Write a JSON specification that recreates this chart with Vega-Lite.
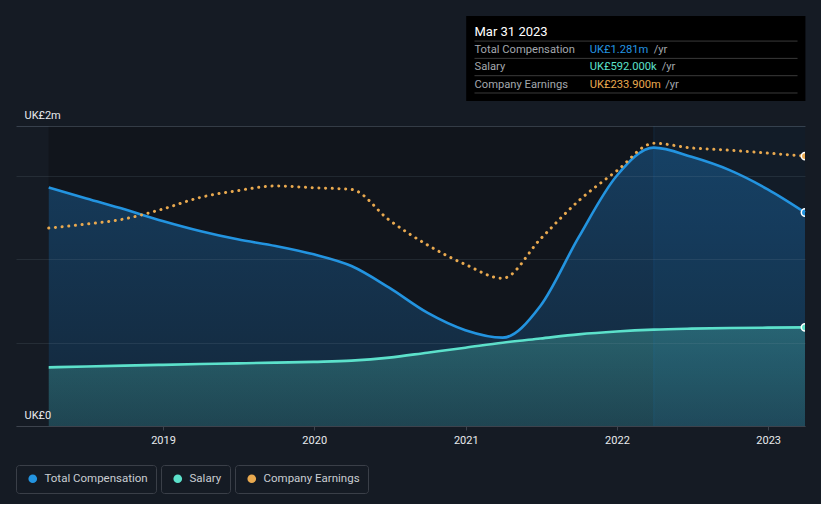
{
  "$schema": "https://vega.github.io/schema/vega-lite/v6.json",
  "width": 789,
  "height": 300,
  "autosize": {"type": "pad"},
  "padding": {"top": 15, "left": 15, "right": 16, "bottom": 10},
  "background": "#151b24",
  "config": {
    "view": {"stroke": null},
    "font": "Roboto",
    "legend": {
      "orient": "bottom",
      "direction": "horizontal",
      "strokeColor": "#3a3f48",
      "cornerRadius": 3,
      "padding": 8,
      "symbolType": "circle",
      "symbolSize": 75,
      "symbolStrokeWidth": 0,
      "labelColor": "#c9cdd2",
      "labelFontSize": 11.5,
      "labelFont": "Roboto",
      "labelOffset": 6,
      "symbolOffset": 3,
      "offset": 20,
      "layout": {"bottom": {"anchor": "start", "margin": 5}}
    }
  },
  "datasets": {
    "comp": [
      {"date": "2018-03-31", "comp": 1.431, "salary": 0.352, "earnings": 171.5},
      {"date": "2018-06-30", "comp": 1.365, "salary": 0.357, "earnings": 175},
      {"date": "2018-09-30", "comp": 1.3, "salary": 0.362, "earnings": 179.5},
      {"date": "2018-12-31", "comp": 1.23, "salary": 0.367, "earnings": 188},
      {"date": "2019-03-31", "comp": 1.17, "salary": 0.372, "earnings": 198},
      {"date": "2019-06-30", "comp": 1.12, "salary": 0.376, "earnings": 204},
      {"date": "2019-09-30", "comp": 1.08, "salary": 0.38, "earnings": 208},
      {"date": "2019-12-31", "comp": 1.03, "salary": 0.385, "earnings": 206.5},
      {"date": "2020-03-31", "comp": 0.96, "salary": 0.392, "earnings": 205},
      {"date": "2020-06-30", "comp": 0.83, "salary": 0.41, "earnings": 178.5},
      {"date": "2020-09-30", "comp": 0.68, "salary": 0.44, "earnings": 157},
      {"date": "2020-12-31", "comp": 0.575, "salary": 0.47, "earnings": 140},
      {"date": "2021-03-31", "comp": 0.53, "salary": 0.5, "earnings": 128},
      {"date": "2021-06-30", "comp": 0.72, "salary": 0.525, "earnings": 162},
      {"date": "2021-09-30", "comp": 1.13, "salary": 0.55, "earnings": 195},
      {"date": "2021-12-31", "comp": 1.5, "salary": 0.567, "earnings": 221},
      {"date": "2022-03-31", "comp": 1.67, "salary": 0.578, "earnings": 245},
      {"date": "2022-06-30", "comp": 1.615, "salary": 0.584, "earnings": 241},
      {"date": "2022-09-30", "comp": 1.535, "salary": 0.588, "earnings": 239},
      {"date": "2022-12-31", "comp": 1.42, "salary": 0.59, "earnings": 236.5},
      {"date": "2023-03-31", "comp": 1.281, "salary": 0.592, "earnings": 233.9}
    ],
    "tip": [
      {"row": 0, "label": "Mar 31 2023", "kind": "title"},
      {"row": 1, "label": "Total Compensation", "kind": "item", "series": "Total Compensation", "value": "UK£1.281m", "unit": "/yr"},
      {"row": 2, "label": "Salary", "kind": "item", "series": "Salary", "value": "UK£592.000k", "unit": "/yr"},
      {"row": 3, "label": "Company Earnings", "kind": "item", "series": "Company Earnings", "value": "UK£233.900m", "unit": "/yr"}
    ]
  },
  "layer": [
    {
      "data": {"values": [{}]},
      "mark": {"type": "rect", "color": "#11151c"},
      "encoding": {
        "x": {
          "datum": {"year": 2018, "month": 3, "date": 31, "utc": true},
          "type": "temporal",
          "scale": {
            "type": "utc",
            "domain": [
              {"year": 2018, "month": 1, "date": 11, "utc": true},
              {"year": 2023, "month": 3, "date": 31, "utc": true}
            ],
            "nice": false
          },
          "axis": {
            "title": null,
            "format": "%Y",
            "tickCount": {"interval": "year", "step": 1},
            "grid": false,
            "domainColor": "#3d434d",
            "tickColor": "#3d434d",
            "tickSize": 4,
            "labelColor": "#e8eaed",
            "labelFontSize": 11,
            "labelFont": "Roboto",
            "labelPadding": 4,
            "labelFlush": false,
            "zindex": 1
          }
        },
        "x2": {"datum": {"year": 2023, "month": 3, "date": 31, "utc": true}}
      }
    },
    {
      "data": {"name": "comp"},
      "mark": {
        "type": "area",
        "interpolate": "monotone",
        "fill": {
          "gradient": "linear", "x1": 0, "y1": 0, "x2": 0, "y2": 1,
          "stops": [
            {"offset": 0, "color": "rgba(33,150,243,0.30)"},
            {"offset": 1, "color": "rgba(33,150,243,0.14)"}
          ]
        }
      },
      "encoding": {
        "x": {"field": "date", "type": "temporal"},
        "y": {
          "field": "comp",
          "type": "quantitative",
          "scale": {"domain": [0, 1.8], "nice": false, "zero": true},
          "axis": {
            "title": null,
            "values": [0, 0.5, 1, 1.5, 1.8],
            "labelExpr": "datum.value == 0 ? 'UK£0' : (datum.value > 1.7 ? 'UK£2m' : '')",
            "grid": true,
            "gridColor": "#8899aa",
            "gridOpacity": {"condition": {"test": "datum.value > 1.7", "value": 0.3}, "value": 0.14},
            "domain": false,
            "ticks": false,
            "labelAlign": "left",
            "labelPadding": -8,
            "labelBaseline": "alphabetic",
            "labelOffset": -7.5,
            "labelColor": "#e8eaed",
            "labelFontSize": 11,
            "labelFont": "Roboto",
            "zindex": 1
          }
        }
      }
    },
    {
      "data": {"name": "comp"},
      "mark": {
        "type": "area",
        "interpolate": "monotone",
        "fill": {
          "gradient": "linear", "x1": 0, "y1": 0, "x2": 0, "y2": 1,
          "stops": [
            {"offset": 0, "color": "rgba(92,225,203,0.28)"},
            {"offset": 1, "color": "rgba(92,225,203,0.16)"}
          ]
        }
      },
      "encoding": {
        "x": {"field": "date", "type": "temporal"},
        "y": {"field": "salary", "type": "quantitative", "scale": {"domain": [0, 1.8], "nice": false, "zero": true}, "axis": null}
      }
    },
    {
      "data": {"values": [{}]},
      "mark": {"type": "rect", "color": "#2196f3", "opacity": 0.06},
      "encoding": {
        "x": {"datum": {"year": 2022, "month": 3, "date": 31, "utc": true}, "type": "temporal"},
        "x2": {"datum": {"year": 2023, "month": 3, "date": 31, "utc": true}}
      }
    },
    {
      "data": {"values": [{}]},
      "mark": {"type": "rule", "color": "#2196f3", "opacity": 0.12, "strokeWidth": 1},
      "encoding": {
        "x": {"datum": {"year": 2022, "month": 3, "date": 31, "utc": true}, "type": "temporal"}
      }
    },
    {
      "data": {"name": "comp"},
      "mark": {"type": "line", "interpolate": "monotone", "strokeWidth": 2.6},
      "encoding": {
        "x": {"field": "date", "type": "temporal"},
        "y": {"field": "comp", "type": "quantitative", "scale": {"domain": [0, 1.8], "nice": false, "zero": true}, "axis": null},
        "color": {"datum": "Total Compensation", "scale": {"domain": ["Total Compensation"], "range": ["#2394e0"]}, "legend": {"title": null, "symbolFillColor": "#2394e0"}}
      }
    },
    {
      "data": {"name": "comp"},
      "mark": {"type": "line", "interpolate": "monotone", "strokeWidth": 2.6},
      "encoding": {
        "x": {"field": "date", "type": "temporal"},
        "y": {"field": "salary", "type": "quantitative", "scale": {"domain": [0, 1.8], "nice": false, "zero": true}, "axis": null},
        "color": {"datum": "Salary", "scale": {"domain": ["Salary"], "range": ["#5ce1cb"]}, "legend": {"title": null, "symbolFillColor": "#5ce1cb"}}
      }
    },
    {
      "data": {"name": "comp"},
      "mark": {"type": "line", "interpolate": "monotone", "strokeWidth": 3, "strokeDash": [0.1, 6.6], "strokeCap": "round"},
      "encoding": {
        "x": {"field": "date", "type": "temporal"},
        "y": {"field": "earnings", "type": "quantitative", "scale": {"domain": [0, 260], "nice": false, "zero": true}, "axis": null},
        "color": {"datum": "Company Earnings", "scale": {"domain": ["Company Earnings"], "range": ["#e9a94f"]}, "legend": {"title": null, "symbolFillColor": "#e9a94f"}}
      }
    },
    {
      "data": {"name": "comp"},
      "mark": {"type": "point", "filled": true, "fill": "#2394e0", "stroke": "#ffffff", "strokeWidth": 1.5, "size": 55, "opacity": 1, "clip": true},
      "encoding": {
        "x": {"aggregate": "max", "field": "date", "type": "temporal"},
        "y": {"aggregate": {"argmax": "date"}, "field": "comp", "type": "quantitative", "scale": {"domain": [0, 1.8], "nice": false, "zero": true}, "axis": null}
      }
    },
    {
      "data": {"name": "comp"},
      "mark": {"type": "point", "filled": true, "fill": "#5ce1cb", "stroke": "#ffffff", "strokeWidth": 1.5, "size": 55, "opacity": 1, "clip": true},
      "encoding": {
        "x": {"aggregate": "max", "field": "date", "type": "temporal"},
        "y": {"aggregate": {"argmax": "date"}, "field": "salary", "type": "quantitative", "scale": {"domain": [0, 1.8], "nice": false, "zero": true}, "axis": null}
      }
    },
    {
      "data": {"name": "comp"},
      "mark": {"type": "point", "filled": true, "fill": "#e9a94f", "stroke": "#ffffff", "strokeWidth": 1.5, "size": 55, "opacity": 1, "clip": true},
      "encoding": {
        "x": {"aggregate": "max", "field": "date", "type": "temporal"},
        "y": {"aggregate": {"argmax": "date"}, "field": "earnings", "type": "quantitative", "scale": {"domain": [0, 260], "nice": false, "zero": true}, "axis": null}
      }
    },
    {
      "data": {"values": [{}]},
      "mark": {"type": "rect", "color": "#000000"},
      "encoding": {
        "x": {"datum": {"year": 2021, "month": 1, "date": 2, "utc": true}, "type": "temporal"},
        "x2": {"datum": {"year": 2023, "month": 4, "date": 1, "utc": true}},
        "y": {"datum": -1.14, "type": "quantitative", "scale": {"domain": [5.22, 22.56], "reverse": true, "nice": false, "zero": false}, "axis": null},
        "y2": {"datum": 3.77}
      }
    },
    {
      "data": {"name": "tip"},
      "mark": {"type": "rule", "color": "#3a3a3a", "strokeWidth": 1, "yOffset": 5.4},
      "encoding": {
        "x": {"datum": {"year": 2021, "month": 1, "date": 22, "utc": true}, "type": "temporal"},
        "x2": {"datum": {"year": 2023, "month": 3, "date": 13, "utc": true}},
        "y": {"field": "row", "type": "quantitative", "scale": {"domain": [5.22, 22.56], "reverse": true, "nice": false, "zero": false}, "axis": null}
      }
    },
    {
      "data": {"name": "tip"},
      "transform": [{"filter": "datum.kind == 'title'"}],
      "mark": {"type": "text", "align": "left", "baseline": "alphabetic", "fontSize": 13, "font": "Roboto", "fontWeight": "normal", "color": "#ffffff"},
      "encoding": {
        "x": {"datum": {"year": 2021, "month": 1, "date": 22, "utc": true}, "type": "temporal"},
        "y": {"field": "row", "type": "quantitative", "scale": {"domain": [5.22, 22.56], "reverse": true, "nice": false, "zero": false}, "axis": null},
        "text": {"field": "label"}
      }
    },
    {
      "data": {"name": "tip"},
      "transform": [{"filter": "datum.kind == 'item'"}],
      "mark": {"type": "text", "align": "left", "baseline": "alphabetic", "fontSize": 11.2, "font": "Roboto", "color": "#a3a7ad"},
      "encoding": {
        "x": {"datum": {"year": 2021, "month": 1, "date": 22, "utc": true}, "type": "temporal"},
        "y": {"field": "row", "type": "quantitative", "scale": {"domain": [5.22, 22.56], "reverse": true, "nice": false, "zero": false}, "axis": null},
        "text": {"field": "label"}
      }
    },
    {
      "data": {"name": "tip"},
      "transform": [{"filter": "datum.kind == 'item'"}],
      "mark": {"type": "text", "align": "left", "baseline": "alphabetic", "fontSize": 11.2, "font": "Roboto"},
      "encoding": {
        "x": {"datum": {"year": 2021, "month": 10, "date": 27, "utc": true}, "type": "temporal"},
        "y": {"field": "row", "type": "quantitative", "scale": {"domain": [5.22, 22.56], "reverse": true, "nice": false, "zero": false}, "axis": null},
        "text": {"field": "value"},
        "color": {"field": "series", "type": "nominal", "scale": {"domain": ["Total Compensation", "Salary", "Company Earnings"], "range": ["#2394e0", "#5ce1cb", "#e9a94f"]}, "legend": null}
      }
    },
    {
      "data": {"name": "tip"},
      "transform": [{"filter": "datum.row == 1"}],
      "mark": {"type": "text", "align": "left", "baseline": "alphabetic", "fontSize": 11.2, "font": "Roboto", "color": "#a3a7ad", "dx": 64},
      "encoding": {
        "x": {"datum": {"year": 2021, "month": 10, "date": 27, "utc": true}, "type": "temporal"},
        "y": {"field": "row", "type": "quantitative", "scale": {"domain": [5.22, 22.56], "reverse": true, "nice": false, "zero": false}, "axis": null},
        "text": {"field": "unit"}
      }
    },
    {
      "data": {"name": "tip"},
      "transform": [{"filter": "datum.row == 2"}],
      "mark": {"type": "text", "align": "left", "baseline": "alphabetic", "fontSize": 11.2, "font": "Roboto", "color": "#a3a7ad", "dx": 72},
      "encoding": {
        "x": {"datum": {"year": 2021, "month": 10, "date": 27, "utc": true}, "type": "temporal"},
        "y": {"field": "row", "type": "quantitative", "scale": {"domain": [5.22, 22.56], "reverse": true, "nice": false, "zero": false}, "axis": null},
        "text": {"field": "unit"}
      }
    },
    {
      "data": {"name": "tip"},
      "transform": [{"filter": "datum.row == 3"}],
      "mark": {"type": "text", "align": "left", "baseline": "alphabetic", "fontSize": 11.2, "font": "Roboto", "color": "#a3a7ad", "dx": 75.5},
      "encoding": {
        "x": {"datum": {"year": 2021, "month": 10, "date": 27, "utc": true}, "type": "temporal"},
        "y": {"field": "row", "type": "quantitative", "scale": {"domain": [5.22, 22.56], "reverse": true, "nice": false, "zero": false}, "axis": null},
        "text": {"field": "unit"}
      }
    }
  ],
  "resolve": {
    "scale": {"y": "independent", "color": "independent"},
    "legend": {"color": "independent"}
  }
}
